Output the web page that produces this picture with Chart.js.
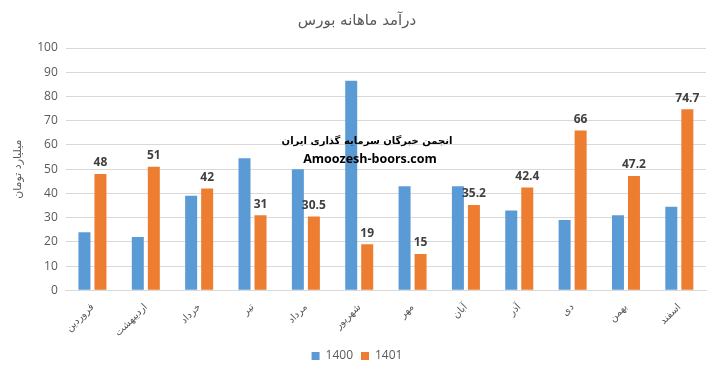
<!DOCTYPE html>
<html>
<head>
<meta charset="utf-8">
<script src="https://cdn.jsdelivr.net/npm/chart.js@4/dist/chart.umd.min.js"></script>
<style>
  body { margin: 0; background: #fff; }
  #wrap { width: 720px; height: 372px; }
</style>
</head>
<body>
<div id="wrap"><canvas id="myChart"></canvas></div>
<script>
// data
const months = ["فروردین", "اردیبهشت", "خرداد", "تیر", "مرداد", "شهریور", "مهر", "آبان", "آذر", "دی", "بهمن", "اسفند"];
const sales1400 = [24, 22, 39, 54.5, 50, 86.5, 43, 43, 33, 29, 31, 34.5];
const sales1401 = [48, 51, 42, 31, 30.5, 19, 15, 35.2, 42.4, 66, 47.2, 74.7];
const yTicks = [0, 10, 20, 30, 40, 50, 60, 70, 80, 90, 100];

const grey = "#595959";

// labels on top of 1401 bars + watermark text
const barLabels = {
  id: "barLabels",
  afterDatasetsDraw(chart) {
    let ctx = chart.ctx;
    let meta = chart.getDatasetMeta(1);
    ctx.save();
    ctx.font = "bold 12px 'Open Sans', 'DejaVu Sans'";
    ctx.fillStyle = "#404040";
    ctx.textAlign = "center";
    ctx.textBaseline = "bottom";
    meta.data.forEach((bar, i) => {
      ctx.fillText(String(sales1401[i]), bar.x, bar.y - 5);
    });

    // watermark
    ctx.fillStyle = "#000";
    ctx.font = "bold 10px 'DejaVu Sans'";
    ctx.textBaseline = "middle";
    ctx.fillText("انجمن خبرگان سرمایه گذاری ایران", chart.width / 2 + 7, 141);
    ctx.font = "bold 12.5px 'Open Sans', 'DejaVu Sans'";
    ctx.fillText("Amoozesh-boors.com", chart.width / 2 + 10, 159);
    ctx.restore();
  },
};

const ctx = document.getElementById("myChart");

new Chart(ctx, {
  type: "bar",
  data: {
    labels: months,
    datasets: [
      {
        label: "1400",
        data: sales1400,
        backgroundColor: "#5B9BD5",
        categoryPercentage: 0.6,
        barPercentage: 0.75,
      },
      {
        label: "1401",
        data: sales1401,
        backgroundColor: "#ED7D31",
        categoryPercentage: 0.6,
        barPercentage: 0.75,
      },
    ],
  },
  options: {
    responsive: true,
    maintainAspectRatio: false,
    animation: false,
    layout: {
      padding: { left: 8, right: 14, top: 6, bottom: 0 },
    },
    plugins: {
      title: {
        display: true,
        text: "درآمد ماهانه بورس",
        color: grey,
        font: { family: "'DejaVu Sans'", size: 15, weight: "normal" },
        padding: { top: 6, bottom: 18 },
      },
      legend: {
        position: "bottom",
        labels: {
          color: grey,
          boxWidth: 8,
          boxHeight: 8,
          padding: 8,
          font: { family: "'Open Sans', 'DejaVu Sans'", size: 12 },
        },
      },
      tooltip: { enabled: false },
    },
    scales: {
      x: {
        grid: { display: false },
        border: { color: "#d9d9d9" },
        ticks: {
          color: grey,
          minRotation: 45,
          maxRotation: 45,
          font: { family: "'DejaVu Sans'", size: 10 },
        },
      },
      y: {
        min: 0,
        max: 100,
        afterBuildTicks: (axis) => {
          axis.ticks = yTicks.map((v) => ({ value: v }));
        },
        grid: { color: "#d9d9d9", drawTicks: false },
        border: { display: false },
        ticks: {
          color: grey,
          padding: 8,
          font: { family: "'Open Sans', 'DejaVu Sans'", size: 12 },
        },
        title: {
          display: true,
          text: "میلیارد تومان",
          color: grey,
          font: { family: "'DejaVu Sans'", size: 11 },
        },
      },
    },
  },
  plugins: [barLabels],
});
</script>
</body>
</html>
